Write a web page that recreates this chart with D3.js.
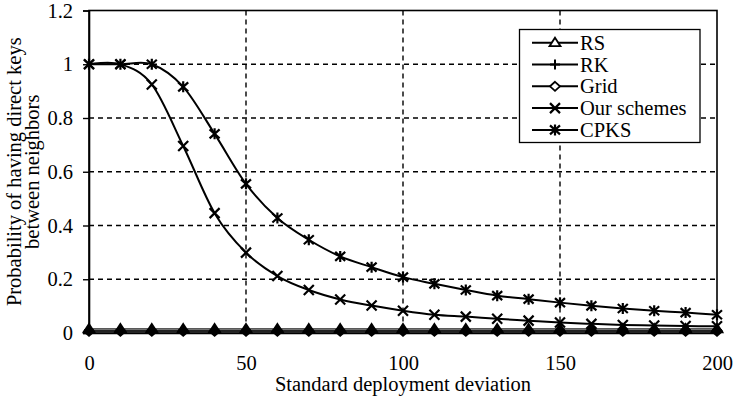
<!DOCTYPE html>
<html>
<head>
<meta charset="utf-8">
<script src="https://cdn.jsdelivr.net/npm/d3@7"></script>
<style>
html,body{margin:0;padding:0;background:#fff;}
svg{display:block;}
</style>
</head>
<body>
<svg id="chart" width="734" height="399"></svg>
<script>
const xValues = [0,10,20,30,40,50,60,70,80,90,100,110,120,130,140,150,160,170,180,190,200];
const rsValues = [0.015,0.015,0.015,0.015,0.015,0.015,0.015,0.015,0.015,0.015,0.015,0.015,0.015,0.015,0.015,0.015,0.015,0.015,0.015,0.015,0.015];
const rkValues = [0.01,0.01,0.01,0.01,0.01,0.01,0.01,0.01,0.01,0.01,0.01,0.01,0.01,0.01,0.01,0.01,0.01,0.01,0.01,0.01,0.01];
const gridValues = [0.006,0.006,0.006,0.006,0.006,0.006,0.006,0.006,0.006,0.006,0.006,0.006,0.006,0.006,0.006,0.006,0.006,0.006,0.006,0.006,0.006];
const ourValues = [1,1,0.925,0.696,0.446,0.299,0.212,0.16,0.125,0.102,0.083,0.068,0.061,0.053,0.046,0.039,0.034,0.03,0.028,0.026,0.025];
const cpksValues = [1,1,1,0.916,0.741,0.555,0.428,0.347,0.285,0.245,0.208,0.183,0.16,0.139,0.126,0.113,0.101,0.091,0.083,0.076,0.068];
const xTicks = [0,50,100,150,200];
const yTicks = [0,0.2,0.4,0.6,0.8,1,1.2];
const yTickLabels = ["0","0.2","0.4","0.6","0.8","1","1.2"];
const seriesNames = ["RS","RK","Grid","Our schemes","CPKS"];
const seriesMarkers = ["triangle","plus","diamond","cross","asterisk"];
const xTitle = "Standard deployment deviation";
const yTitleLines = ["Probability of having direct keys","between neighbors"];

const FONT = "'Liberation Serif', 'Times New Roman', serif";
const FS = "20.5px";
const svg = d3.select("#chart");
const pLeft = 89, pRight = 717, pTop = 10.5, pBottom = 333;
const x = d3.scaleLinear().domain([0,200]).range([pLeft,pRight]);
const y = d3.scaleLinear().domain([0,1.2]).range([pBottom,pTop]);

// gridlines
const g = svg.append("g");
g.selectAll(".hg").data(yTicks.filter(v => v > 0 && v < 1.2)).enter().append("line")
  .attr("x1", pLeft).attr("x2", pRight).attr("y1", d => y(d)).attr("y2", d => y(d))
  .attr("stroke","#000").attr("stroke-width",1.4).attr("stroke-dasharray","5,4");
g.selectAll(".vg").data(xTicks.filter(v => v > 0 && v < 200)).enter().append("line")
  .attr("y1", pTop).attr("y2", pBottom).attr("x1", d => x(d)).attr("x2", d => x(d))
  .attr("stroke","#000").attr("stroke-width",1.4).attr("stroke-dasharray","5,4");

// frame
svg.append("rect").attr("x",pLeft).attr("y",pTop).attr("width",pRight-pLeft).attr("height",pBottom-pTop)
  .attr("fill","none").attr("stroke","#000").attr("stroke-width",1.6);

// axes
const yAxis = d3.axisLeft(y).tickValues(yTicks).tickFormat((d,i) => yTickLabels[i]).tickSize(6).tickPadding(10);
const ya = svg.append("g").attr("transform",`translate(${pLeft},0)`).call(yAxis);
ya.select(".domain").attr("stroke-width",1.6);
ya.selectAll(".tick line").attr("stroke-width",1.4);
ya.selectAll("text").style("font-size",FS).style("font-family",FONT).attr("fill","#000");
const xAxis = d3.axisBottom(x).tickValues(xTicks).tickFormat(d3.format("d")).tickSize(0);
const xa = svg.append("g").attr("transform",`translate(0,${pBottom})`).call(xAxis);
xa.select(".domain").attr("stroke-width",1.6);
xa.selectAll("text").attr("dy",null).attr("y",37).style("font-size",FS).style("font-family",FONT).attr("fill","#000");

// titles
svg.append("text").attr("x",(pLeft+pRight)/2).attr("y",391).attr("text-anchor","middle")
  .style("font-size",FS).style("font-family",FONT).text(xTitle);
const yt = svg.append("text").attr("transform",`translate(20.5,${(pTop+pBottom)/2}) rotate(-90)`).attr("text-anchor","middle")
  .style("font-size",FS).style("font-family",FONT);
yt.append("tspan").attr("x",0).attr("dy",0).text(yTitleLines[0]);
yt.append("tspan").attr("x",0).attr("dy",18.5).text(yTitleLines[1]);

// markers
function drawMarker(sel, type, cx, cy, fillCol) {
  const s = sel.append("g").attr("transform",`translate(${cx},${cy})`);
  if (type === "triangle") {
    s.append("path").attr("d","M0,-5L5.5,3.5L-5.5,3.5Z").attr("fill",fillCol).attr("stroke","#000").attr("stroke-width",1.8);
  } else if (type === "plus") {
    s.append("path").attr("d","M-5,0L5,0M0,-5L0,5").attr("stroke","#000").attr("stroke-width",2);
  } else if (type === "diamond") {
    s.append("path").attr("d","M0,-4.5L5,0L0,4.5L-5,0Z").attr("fill",fillCol).attr("stroke","#000").attr("stroke-width",1.8);
  } else if (type === "cross") {
    s.append("path").attr("d","M-5,-5L5,5M-5,5L5,-5").attr("stroke","#000").attr("stroke-width",2.2);
  } else if (type === "asterisk") {
    s.append("path").attr("d","M-5,-4.5L5,4.5M-5,4.5L5,-4.5M0,-5.5L0,5.5").attr("stroke","#000").attr("stroke-width",2.2);
  }
}

const allSeries = [rsValues, rkValues, gridValues, ourValues, cpksValues];
const line = d3.line().x((d,i) => x(xValues[i])).y(d => y(d)).curve(d3.curveCatmullRom.alpha(0));
const lineStraight = d3.line().x((d,i) => x(xValues[i])).y(d => y(d));
allSeries.forEach((vals, si) => {
  svg.append("path").attr("d", si >= 3 ? line(vals) : lineStraight(vals))
    .attr("fill","none").attr("stroke", si >= 3 ? "#000" : "#222").attr("stroke-width", si >= 3 ? 2 : 1.3);
});
allSeries.forEach((vals, si) => {
  const mg = svg.append("g");
  vals.forEach((v,i) => drawMarker(mg, seriesMarkers[si], x(xValues[i]), y(v), "#000"));
});

// legend
const lg = svg.append("g");
lg.append("rect").attr("x",519.5).attr("y",29.5).attr("width",180.5).attr("height",113)
  .attr("fill","#fff").attr("stroke","#000").attr("stroke-width",1.3);
seriesNames.forEach((name, i) => {
  const ly = 42.7 + i*21.8;
  lg.append("line").attr("x1",532).attr("x2",578).attr("y1",ly).attr("y2",ly).attr("stroke","#000").attr("stroke-width",2);
  drawMarker(lg, seriesMarkers[i], 555, ly, "#fff");
  lg.append("text").attr("x",580).attr("y",ly+7).style("font-size",FS).style("font-family",FONT).text(name);
});
</script>
</body>
</html>
